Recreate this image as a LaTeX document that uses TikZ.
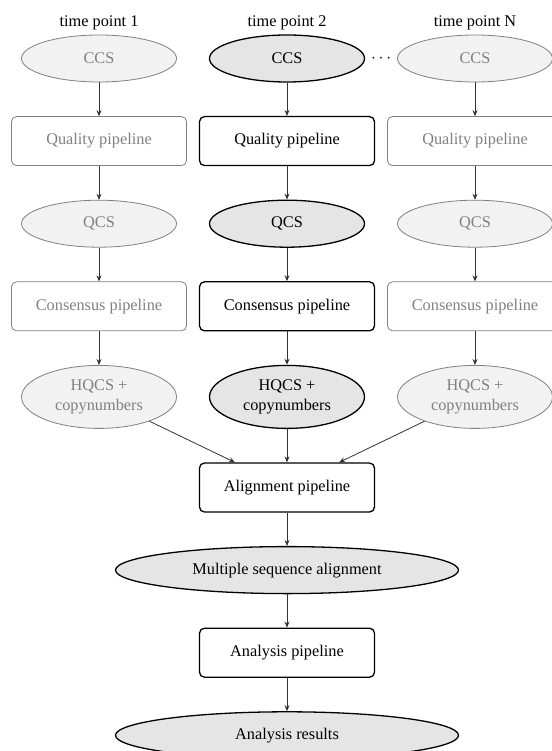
\documentclass[tikz,border=0pt]{standalone}
\usepackage{fontspec}
\setmainfont{Liberation Serif}
\usetikzlibrary{shapes.geometric,positioning,arrows.meta,calc}

\begin{document}
\begin{tikzpicture}[node distance=33.3pt,font=\fontsize{16.3}{19.5}\selectfont,
    >={Stealth[length=6pt,width=5pt]},
    data/.style={ellipse,draw,line width=1.3pt,fill=black!10,minimum width=155pt,minimum height=47pt,inner sep=2pt},
    proc/.style={rectangle,rounded corners=5pt,draw,line width=1.3pt,minimum width=175pt,minimum height=49pt},
    ghost/.style={draw=black!50,text=black!50,line width=0.8pt},
    ghostdata/.style={data,ghost,fill=black!5},
    ghostproc/.style={proc,ghost}]
   \useasboundingbox (0,0) rectangle (551pt,-751pt);
   % time point 2 (the one in focus)
   \node[data] (ccsB) at (287pt,-58.5pt) {CCS};
   \node[proc] (qualB) [below=of ccsB] {Quality pipeline};
   \node[data] (qcsB) [below=of qualB] {QCS};
   \node[proc] (consB) [below=of qcsB] {Consensus pipeline};
   \node[data,minimum height=63pt,align=center] (hqcsB) [below=of consB] {HQCS +\\copynumbers};
   % time point 1
   \node[ghostdata] (ccsA) [on grid,left=188pt of ccsB] {CCS};
   \node[ghostproc] (qualA) [on grid,left=188pt of qualB] {Quality pipeline};
   \node[ghostdata] (qcsA) [on grid,left=188pt of qcsB] {QCS};
   \node[ghostproc] (consA) [on grid,left=188pt of consB] {Consensus pipeline};
   \node[ghostdata,minimum height=63pt,align=center] (hqcsA) [on grid,left=188pt of hqcsB] {HQCS +\\copynumbers};
   % time point N
   \node[ghostdata] (ccsC) [on grid,right=188pt of ccsB] {CCS};
   \node[ghostproc] (qualC) [on grid,right=188pt of qualB] {Quality pipeline};
   \node[ghostdata] (qcsC) [on grid,right=188pt of qcsB] {QCS};
   \node[ghostproc] (consC) [on grid,right=188pt of consB] {Consensus pipeline};
   \node[ghostdata,minimum height=63pt,align=center] (hqcsC) [on grid,right=188pt of hqcsB] {HQCS +\\copynumbers};
   % column titles
   \node (titleA) [above=1pt of ccsA] {time point 1};
   \node (titleB) [above=1pt of ccsB] {time point 2};
   \node (titleC) [above=1pt of ccsC] {time point N};
   \node (dots) at ($(ccsB.east)!0.5!(ccsC.west)$) {$\cdots$};
   % common part
   \node[proc] (align) [below=of hqcsB] {Alignment pipeline};
   \node[data,minimum width=343pt] (msa) [below=of align] {Multiple sequence alignment};
   \node[proc] (analysis) [below=of msa] {Analysis pipeline};
   \node[data,minimum width=343pt] (results) [below=of analysis] {Analysis results};
    \path[->,draw=black!80,line width=0.8pt]
    (ccsA) edge (qualA)
    (qualA) edge (qcsA)
    (qcsA) edge (consA)
    (consA) edge (hqcsA)
    (ccsB) edge (qualB)
    (qualB) edge (qcsB)
    (qcsB) edge (consB)
    (consB) edge (hqcsB)
    (ccsC) edge (qualC)
    (qualC) edge (qcsC)
    (qcsC) edge (consC)
    (consC) edge (hqcsC)
    (hqcsA) edge (align)
    (hqcsB) edge (align)
    (hqcsC) edge (align)
    (align) edge (msa)
    (msa) edge (analysis)
    (analysis) edge (results);
\end{tikzpicture}
\end{document}
